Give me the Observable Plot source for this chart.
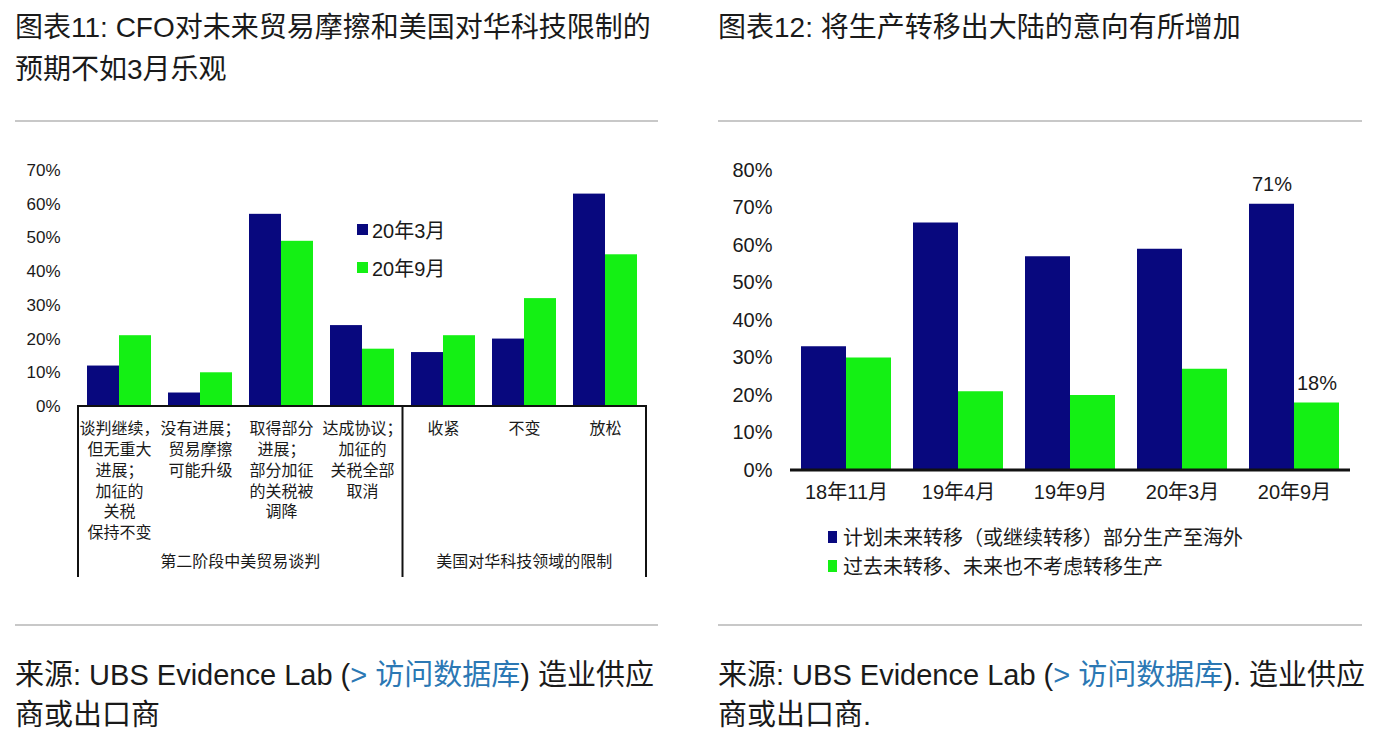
<!DOCTYPE html>
<html><head><meta charset="utf-8">
<script src="https://cdn.jsdelivr.net/npm/d3@7"></script>
<script src="https://cdn.jsdelivr.net/npm/@observablehq/plot@0.6"></script>
<style>
body{margin:0;background:#fff;font-family:"Liberation Sans","Noto Sans CJK SC",sans-serif;color:#1a1a1a;}
#page{position:relative;width:1388px;height:750px;overflow:hidden;background:#fff;}
.abs{position:absolute;}
.title{font-size:28px;line-height:42px;white-space:nowrap;}
.rule{height:2px;background:#c8c8c8;}
.src{font-size:29px;line-height:40px;white-space:nowrap;}
.link{color:#2b78b4;}
.leg{display:flex;align-items:center;white-space:nowrap;}
.sw{display:inline-block;}
</style></head>
<body><div id="page">
  <div class="abs title" style="left:15px;top:7px;">图表11: CFO对未来贸易摩擦和美国对华科技限制的<br>预期不如3月乐观</div>
  <div class="abs title" style="left:718px;top:7px;">图表12: 将生产转移出大陆的意向有所增加</div>
  <div class="abs rule" style="left:15px;top:120px;width:643px;"></div>
  <div class="abs rule" style="left:718px;top:120px;width:644px;"></div>
  <div class="abs rule" style="left:15px;top:624px;width:643px;"></div>
  <div class="abs rule" style="left:718px;top:624px;width:644px;"></div>
  <div class="abs src" style="left:15px;top:655px;">来源: UBS Evidence Lab (<span class="link">&gt; 访问数据库</span>) 造业供应<br>商或出口商</div>
  <div class="abs src" style="left:718px;top:655px;">来源: UBS Evidence Lab (<span class="link">&gt; 访问数据库</span>). 造业供应<br>商或出口商.</div>
  <div id="left" class="abs" style="left:0px;top:150px;"></div>
  <div id="right" class="abs" style="left:700px;top:150px;"></div>
  <div id="leftLegend" class="abs" style="left:357px;top:210px;"></div>
  <div id="rightLegend" class="abs" style="left:828px;top:522px;"></div>
</div>
<script>
// ---------- data: left chart ----------
const leftCategories = [
  "谈判继续，\n但无重大\n进展；\n加征的\n关税\n保持不变",
  "没有进展；\n贸易摩擦\n可能升级",
  "取得部分\n进展；\n部分加征\n的关税被\n调降",
  "达成协议；\n加征的\n关税全部\n取消",
  "收紧",
  "不变",
  "放松"
];
const leftGroups = ["第二阶段中美贸易谈判", "美国对华科技领域的限制"];
const leftGroupSizes = [4, 3];
const leftSeries = ["20年3月", "20年9月"];
const leftMar = [12, 4, 57, 24, 16, 20, 63];
const leftSep = [21, 10, 49, 17, 21, 32, 45];
const leftTicks = [0, 10, 20, 30, 40, 50, 60, 70];

// ---------- data: right chart ----------
const rightCategories = ["18年11月", "19年4月", "19年9月", "20年3月", "20年9月"];
const rightSeries = ["计划未来转移（或继续转移）部分生产至海外", "过去未转移、未来也不考虑转移生产"];
const rightPlan = [33, 66, 57, 59, 71];
const rightNone = [30, 21, 20, 27, 18];
const rightTicks = [0, 10, 20, 30, 40, 50, 60, 70, 80];
const rightLabeledCategory = "20年9月";

const navy = "#08087e";
const green = "#14f014";
const font = '"Liberation Sans","Noto Sans CJK SC",sans-serif';
const ink = "#1a1a1a";

const leftData = [];
leftCategories.forEach((c, i) => {
  leftData.push({cat: c, series: leftSeries[0], value: leftMar[i]});
  leftData.push({cat: c, series: leftSeries[1], value: leftSep[i]});
});
const rightData = [];
rightCategories.forEach((c, i) => {
  rightData.push({cat: c, series: rightSeries[0], value: rightPlan[i]});
  rightData.push({cat: c, series: rightSeries[1], value: rightNone[i]});
});

// ---------- left chart ----------
const left = Plot.plot({
  width: 680, height: 430,
  marginLeft: 78, marginRight: 34, marginTop: 20, marginBottom: 174,
  style: {fontFamily: font, fontSize: "17px", background: "transparent", overflow: "visible", color: ink},
  fx: {domain: leftCategories, paddingInner: 0.21, paddingOuter: 0.11},
  x: {domain: leftSeries, padding: 0, axis: null},
  y: {domain: [0, 70]},
  color: {domain: leftSeries, range: [navy, green]},
  marks: [
    Plot.barY(leftData, {fx: "cat", x: "series", y: "value", fill: "series"}),
    Plot.axisY({ticks: leftTicks, tickFormat: d => d + "%", tickSize: 0, tickPadding: 27, fontSize: 17, label: null, fill: ink}),
    Plot.axisFx({anchor: "bottom", tickSize: 0, tickPadding: 13, lineHeight: 1.3, fontSize: 16, label: null, fill: ink})
  ]
});
document.getElementById("left").appendChild(left);
{
  const fx = left.scale("fx"), ys = left.scale("y");
  const y0 = ys.apply(0);
  const [r0, r1] = fx.range;
  const gap = fx.step - fx.bandwidth;
  const H = 427;
  const svg = d3.select(left);
  const g = svg.append("g");
  g.append("path")
    .attr("d", `M${r0},${H}V${y0}H${r1}V${H}`)
    .attr("fill", "none").attr("stroke", "#111").attr("stroke-width", 2);
  let start = 0;
  let xl = r0;
  leftGroups.forEach((name, gi) => {
    const end = start + leftGroupSizes[gi];
    const xr = end < leftCategories.length ? fx.apply(leftCategories[end]) - gap / 2 : r1;
    if (end < leftCategories.length) {
      g.append("line").attr("x1", xr).attr("x2", xr).attr("y1", y0).attr("y2", H)
        .attr("stroke", "#111").attr("stroke-width", 2);
    }
    g.append("text").attr("x", (xl + xr) / 2).attr("y", 413)
      .attr("text-anchor", "middle").attr("dominant-baseline", "middle")
      .attr("font-size", 16).attr("fill", ink).text(name);
    xl = xr; start = end;
  });
}

// ---------- right chart ----------
const right = Plot.plot({
  width: 688, height: 360,
  marginLeft: 90, marginRight: 38, marginTop: 20, marginBottom: 40,
  style: {fontFamily: font, fontSize: "20px", background: "transparent", overflow: "visible", color: ink},
  fx: {domain: rightCategories, paddingInner: 0.2, paddingOuter: 0.1},
  x: {domain: rightSeries, padding: 0, axis: null},
  y: {domain: [0, 80]},
  color: {domain: rightSeries, range: [navy, green]},
  marks: [
    Plot.barY(rightData, {fx: "cat", x: "series", y: "value", fill: "series"}),
    Plot.text(rightData.filter(d => d.cat === rightLabeledCategory), {
      fx: "cat", x: "series", y: "value", text: d => d.value + "%",
      lineAnchor: "bottom", dy: -13, fontSize: 20, fill: ink
    }),
    Plot.axisY({ticks: rightTicks, tickFormat: d => d + "%", tickSize: 0, tickPadding: 29, fontSize: 20, label: null, fill: ink}),
    Plot.axisFx({anchor: "bottom", tickSize: 0, tickPadding: 14, fontSize: 20, label: null, fill: ink})
  ]
});
document.getElementById("right").appendChild(right);
{
  const fx = right.scale("fx"), ys = right.scale("y");
  const y0 = ys.apply(0);
  const [r0, r1] = fx.range;
  d3.select(right).append("line")
    .attr("x1", r0).attr("x2", r1).attr("y1", y0).attr("y2", y0)
    .attr("stroke", "#111").attr("stroke-width", 3);
}

// ---------- legends ----------
function legend(el, names, colors, opts) {
  names.forEach((n, i) => {
    const row = document.createElement("div");
    row.className = "leg";
    row.style.height = opts.rowH + "px";
    row.style.fontSize = opts.fontSize + "px";
    const sw = document.createElement("span");
    sw.className = "sw";
    sw.style.width = opts.sw[0] + "px";
    sw.style.height = opts.sw[1] + "px";
    sw.style.background = colors[i];
    sw.style.marginRight = opts.gap + "px";
    row.appendChild(sw);
    row.appendChild(document.createTextNode(n));
    el.appendChild(row);
  });
}
legend(document.getElementById("leftLegend"), leftSeries, [navy, green], {rowH: 38, fontSize: 20, sw: [11, 11], gap: 4});
legend(document.getElementById("rightLegend"), rightSeries, [navy, green], {rowH: 29, fontSize: 20, sw: [9, 12], gap: 6});
</script>
</body></html>
